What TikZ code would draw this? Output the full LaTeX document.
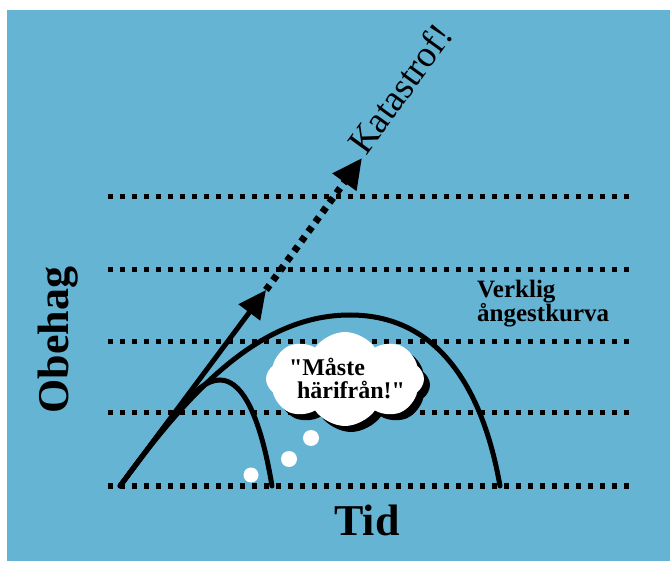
\documentclass[tikz,border=0pt]{standalone}
\usepackage{fontspec}
\setmainfont{Liberation Serif}
\usetikzlibrary{arrows.meta,shapes.symbols}
\definecolor{bg}{RGB}{102,180,212}
\begin{document}
\begin{tikzpicture}[x=1pt,y=-1pt,
  gridline/.style={line width=5pt, dash pattern=on 5pt off 7pt},
  curve/.style={line width=5pt, line cap=round},
  bubble/.style={circle, fill=white, inner sep=0pt},
  puff/.style={cloud, cloud puffs=8, cloud puff arc=110, aspect=1.7, minimum width=158pt, minimum height=94pt, inner sep=0pt},
  lab/.style={font=\bfseries\fontsize{44}{50}\selectfont, inner sep=0pt}]
\useasboundingbox (0,0) rectangle (670,561);
\fill[white] (0,0) rectangle (670,561);
\fill[bg] (7,10) rectangle (670,561);
\foreach \y in {197,270,342,413,486} \draw[gridline] (108,\y) -- (632,\y);
% key points
\coordinate (o) at (120,486);
\coordinate (m) at (266,290);
\coordinate (k) at (362,158);
\coordinate (pk) at (350,315);
\coordinate (e1) at (500,486);
\coordinate (sp) at (220,380);
\coordinate (e2) at (272,486);
% curves
\draw[curve] (o) .. controls (190,390) and (260,315) .. (pk) .. controls (445,315) and (485,400) .. (e1);
\draw[curve] (o) .. controls (170,420) and (195,380) .. (sp) .. controls (245,380) and (262,425) .. (e2);
% arrows
\draw[line width=5pt, -{Triangle[length=28pt,width=26pt]}] (o) -- (m);
\draw[line width=7pt, dash pattern=on 6pt off 6pt, -{Triangle[length=30pt,width=28pt]}] (m) -- (k);
% thought cloud
\node[puff, fill=black] (cs) at (351,385) {};
\node[puff, fill=white] (cl) at (345,379) {};
\node[font=\bfseries\fontsize{24}{23}\selectfont, align=left, inner sep=0pt] (ct) at (347,378) {\textquotedbl Måste\\\hspace*{8pt}härifrån!\textquotedbl};
\node[bubble, minimum size=15pt] (b1) at (251,475) {};
\node[bubble, minimum size=16pt] (b2) at (289,459) {};
\node[bubble, minimum size=16pt] (b3) at (311,438) {};
% labels
\node[lab, rotate=90] (ob) at (58,340) {Obehag};
\node[lab] (tid) at (367,520) {Tid};
\node[font=\bfseries\fontsize{25}{24}\selectfont, align=left, anchor=north west, inner sep=0pt] (vk) at (477,280) {Verklig\\ångestkurva};
\node[font=\fontsize{37}{37}\selectfont, rotate=54, anchor=base west, inner sep=0pt] (kat) at (366,157) {Katastrof!};
\end{tikzpicture}
\end{document}
